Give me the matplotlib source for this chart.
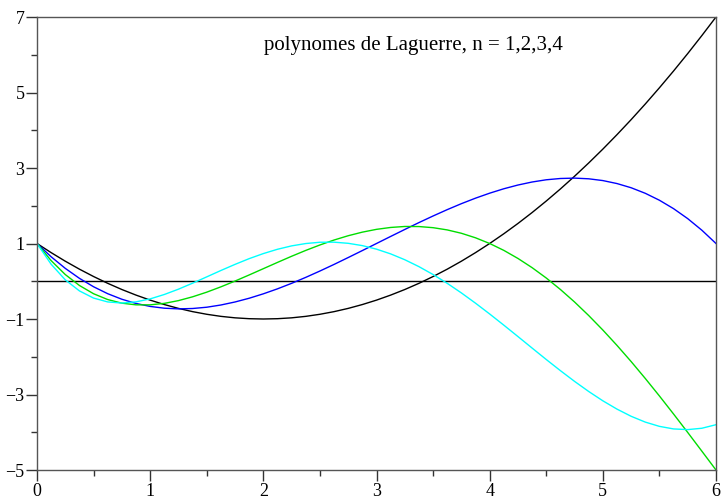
import matplotlib
matplotlib.use("Agg")
import matplotlib.pyplot as plt
from matplotlib.ticker import MultipleLocator

x = [i * 0.125 for i in range(49)]

black = [1.0, 0.758, 0.531, 0.320, 0.125, -0.055, -0.219, -0.367, -0.5,
         -0.617, -0.719, -0.805, -0.875, -0.930, -0.969, -0.992, -1.0,
         -0.992, -0.969, -0.930, -0.875, -0.805, -0.719, -0.617, -0.5,
         -0.367, -0.219, -0.055, 0.125, 0.320, 0.531, 0.758, 1.0, 1.258,
         1.531, 1.820, 2.125, 2.445, 2.781, 3.133, 3.5, 3.883, 4.281, 4.695,
         5.125, 5.570, 6.031, 6.508, 7.0]
blue = [1.0, 0.648, 0.341, 0.077, -0.146, -0.330, -0.477, -0.588, -0.667,
        -0.714, -0.732, -0.722, -0.688, -0.629, -0.549, -0.450, -0.333,
        -0.201, -0.055, 0.103, 0.271, 0.446, 0.628, 0.813, 1.0, 1.187,
        1.372, 1.554, 1.729, 1.897, 2.055, 2.201, 2.333, 2.450, 2.549,
        2.629, 2.688, 2.722, 2.732, 2.714, 2.667, 2.588, 2.477, 2.330,
        2.146, 1.923, 1.659, 1.352, 1.0]
green = [1.0, 0.546, 0.177, -0.112, -0.331, -0.485, -0.581, -0.625, -0.625,
         -0.586, -0.513, -0.412, -0.289, -0.148, 0.005, 0.167, 0.333, 0.499,
         0.662, 0.817, 0.961, 1.092, 1.206, 1.301, 1.375, 1.425, 1.451,
         1.449, 1.419, 1.360, 1.271, 1.151, 1.0, 0.818, 0.604, 0.360, 0.086,
         -0.218, -0.549, -0.908, -1.292, -1.699, -2.127, -2.575, -3.039,
         -3.517, -4.005, -4.501, -5.0]
cyan = [1.0, 0.450, 0.037, -0.256, -0.446, -0.548, -0.577, -0.546, -0.467,
        -0.351, -0.210, -0.051, 0.116, 0.285, 0.447, 0.599, 0.733, 0.847,
        0.937, 0.999, 1.033, 1.035, 1.005, 0.944, 0.85, 0.725, 0.570, 0.387,
        0.178, -0.055, -0.309, -0.581, -0.867, -1.163, -1.465, -1.770,
        -2.073, -2.368, -2.652, -2.920, -3.167, -3.387, -3.577, -3.731,
        -3.844, -3.912, -3.930, -3.894, -3.8]

title = "polynomes de Laguerre, n = 1,2,3,4"

plt.rcParams['font.family'] = ['Liberation Serif', 'DejaVu Serif']

fig = plt.figure(figsize=(7.22, 4.99), dpi=100)
ax = fig.add_axes([37 / 722, 1 - 470 / 499, 679 / 722, 453 / 499])

lw = 1.0
ax.axhline(0, color="black", lw=lw)
ax.plot(x, black, color="black", lw=lw)
ax.plot(x, blue, color="#0000ff", lw=lw)
ax.plot(x, green, color="#00dd00", lw=lw)
ax.plot(x, cyan, color="#00ffff", lw=lw)

ax.set_xlim(0, 6)
ax.set_ylim(-5, 7)
ax.xaxis.set_major_locator(MultipleLocator(1))
ax.xaxis.set_minor_locator(MultipleLocator(0.5))
ax.set_yticks([-5, -3, -1, 1, 3, 5, 7])
ax.set_yticklabels(["\u22125", "\u22123", "\u22121", "1", "3", "5", "7"])
ax.yaxis.set_minor_locator(MultipleLocator(1))

ax.tick_params(which="major", direction="out", length=8, width=1,
               labelsize=13, color="#333333", pad=1)
ax.tick_params(which="minor", direction="out", length=4, width=1,
               color="#333333")
for s in ax.spines.values():
    s.set_color("#555555")
    s.set_linewidth(1)

ax.text(0.555, 0.936, title, transform=ax.transAxes, ha="center",
        va="center", fontsize=15)

fig.savefig("out.png", dpi=100)
